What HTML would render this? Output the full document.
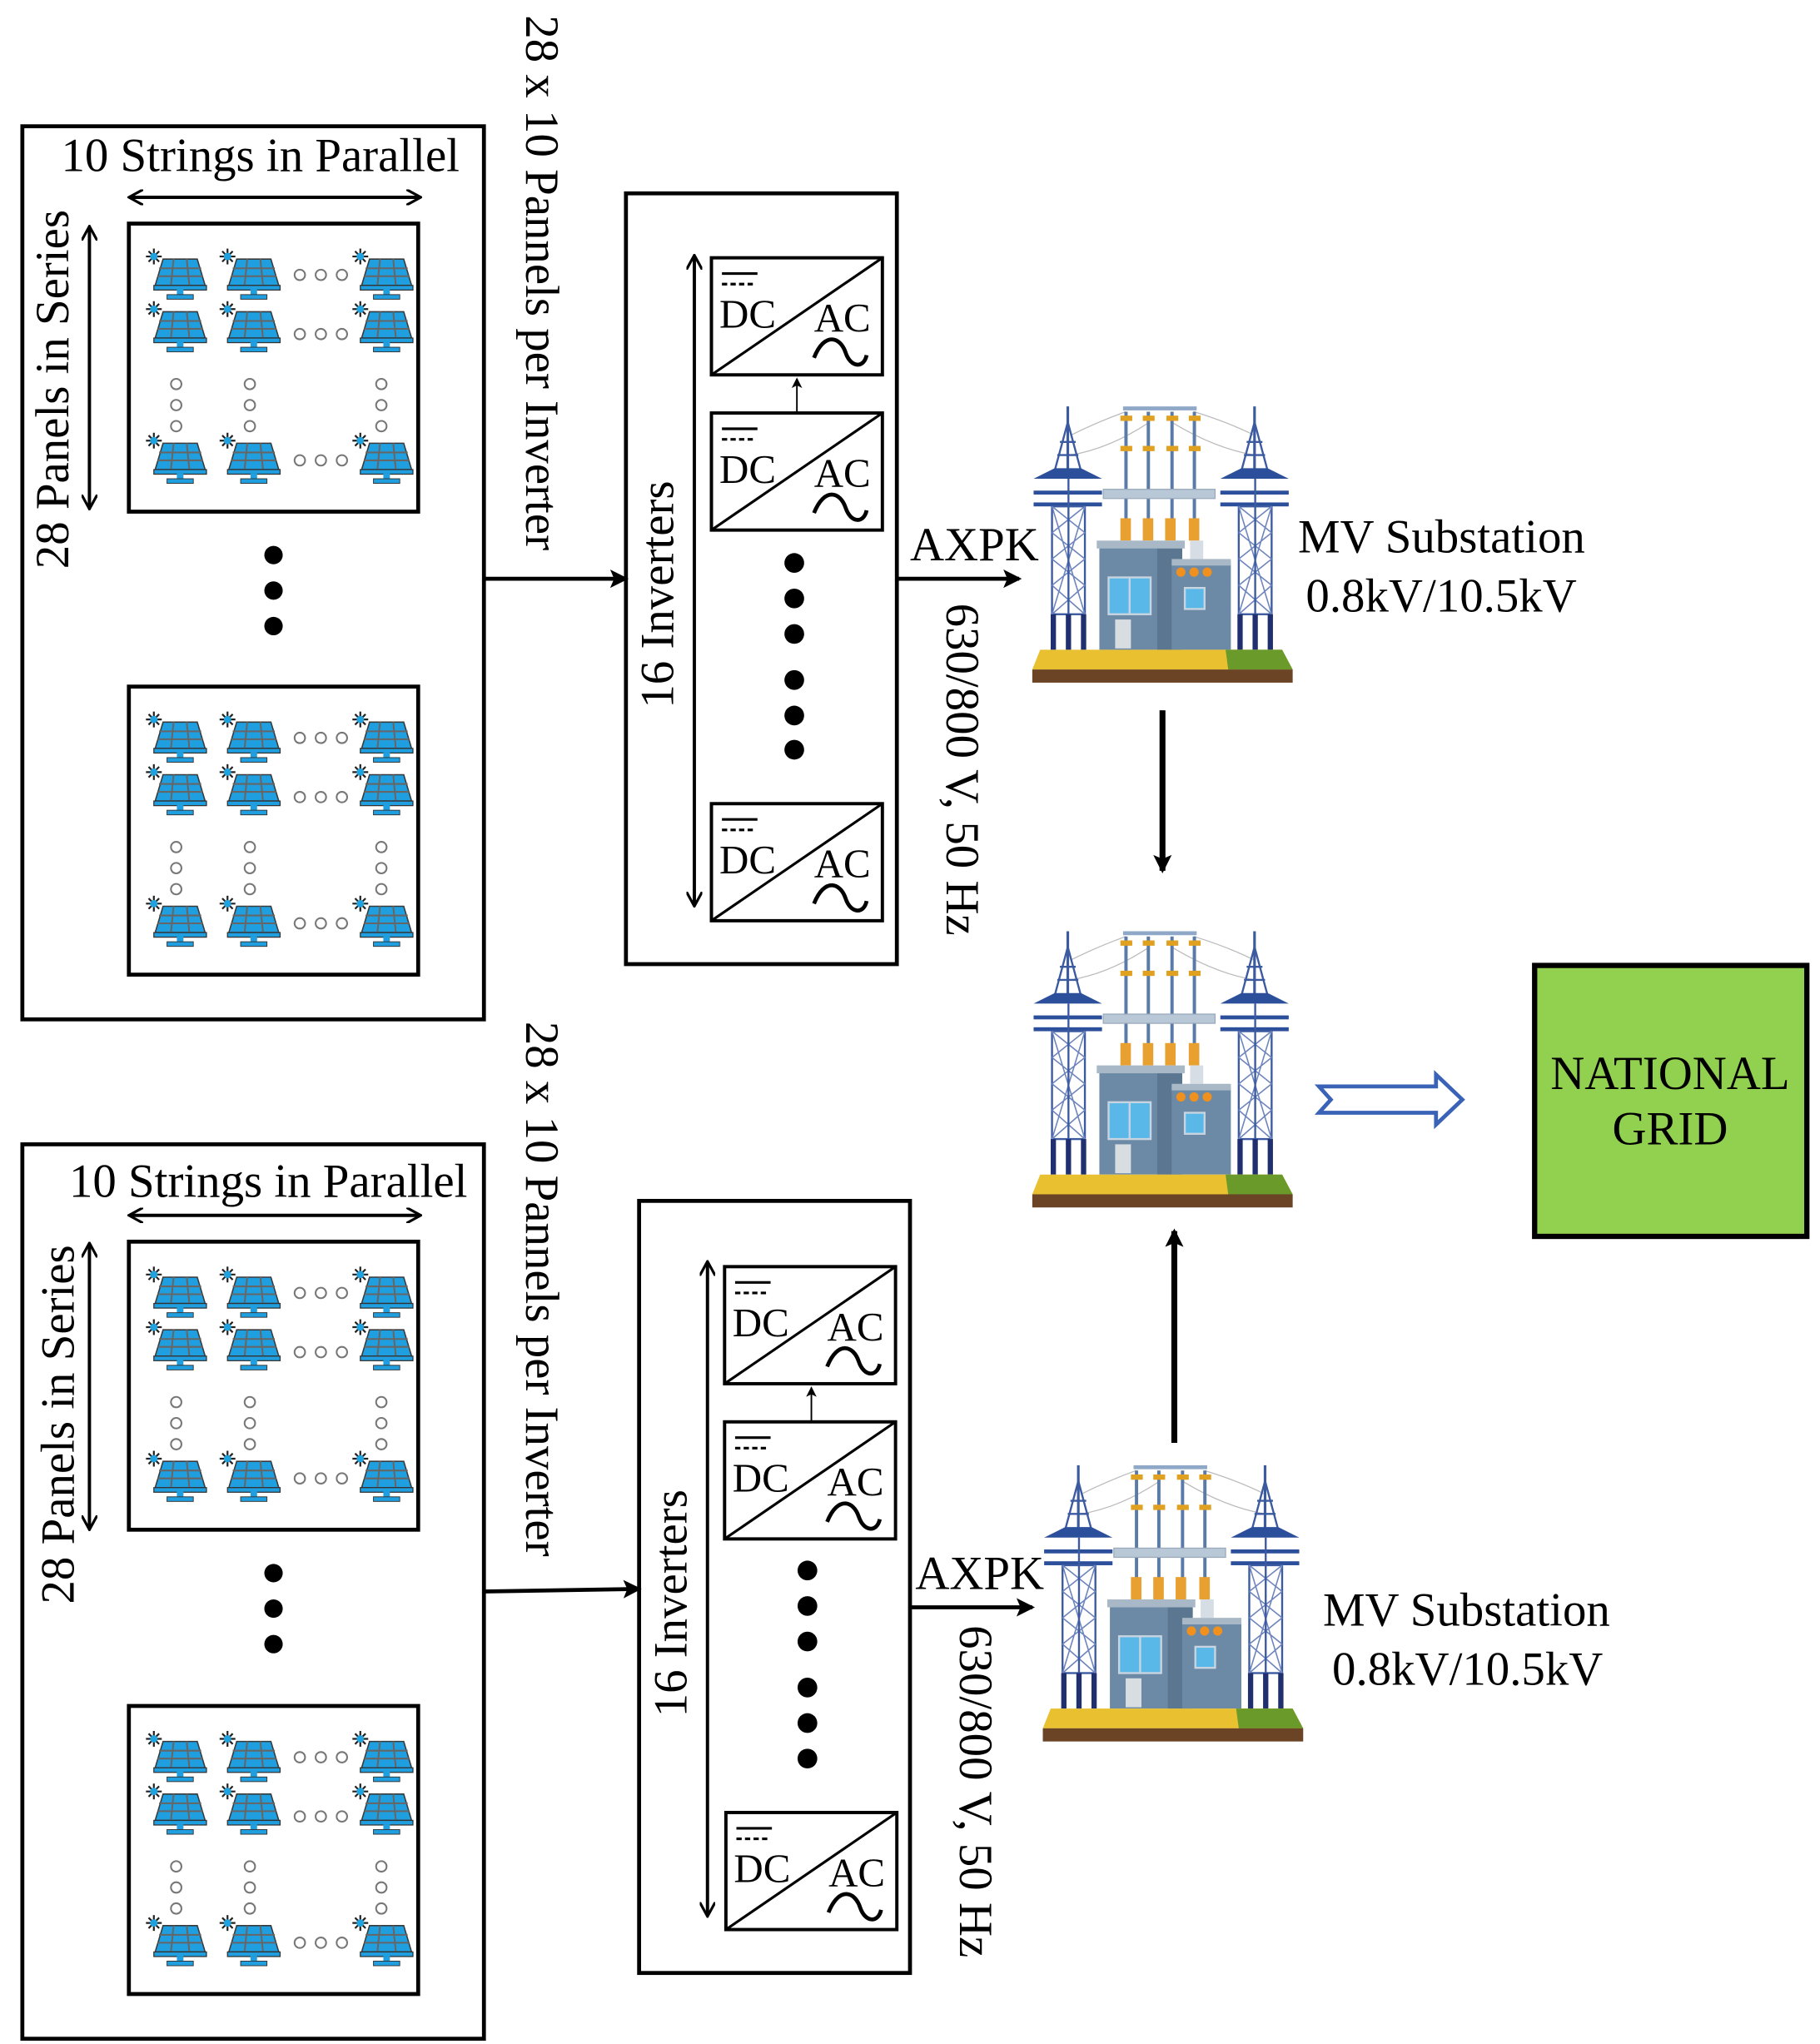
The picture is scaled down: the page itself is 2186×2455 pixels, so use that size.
<!DOCTYPE html>
<html><head><meta charset="utf-8"><style>
html,body{margin:0;padding:0;background:#fff;}
svg{display:block;}
svg text{font-family:"Liberation Serif","DejaVu Serif",serif;fill:#000;}
</style></head><body>
<svg width="2186" height="2455" viewBox="0 0 1384 1554" preserveAspectRatio="none" xmlns="http://www.w3.org/2000/svg" font-family="Liberation Serif, DejaVu Serif, serif">
<defs>
<marker id="ah" markerWidth="8" markerHeight="8" refX="7" refY="4" orient="auto" markerUnits="userSpaceOnUse"><path d="M0,0 L8,4 L0,8 L2,4 Z" fill="#000"/></marker>
<marker id="ahb" markerWidth="14" markerHeight="14" refX="12" refY="7" orient="auto" markerUnits="userSpaceOnUse"><path d="M0,0 L14,7 L0,14 L3,7 Z" fill="#000"/></marker>
<marker id="ahs" markerWidth="12" markerHeight="12" refX="10" refY="6" orient="auto-start-reverse" markerUnits="userSpaceOnUse"><path d="M0,0 L11,6 L0,12" fill="none" stroke="#000" stroke-width="2"/></marker>
<symbol id="pv" viewBox="0 0 44 42" overflow="visible">
 <g stroke="#222" stroke-width="1.4"><line x1="5" y1="1" x2="5" y2="13"/><line x1="-1" y1="7" x2="11" y2="7"/><line x1="1" y1="3" x2="9" y2="11"/><line x1="9" y1="3" x2="1" y2="11"/></g>
 <circle cx="5" cy="7" r="2.8" fill="#1fa3e0"/>
 <path d="M12,9 L38,9 L44,29 L6,29 Z" fill="#1f9fe0" stroke="#3a3a3a" stroke-width="1"/>
 <g stroke="#666" stroke-width="1.3"><line x1="9" y1="16" x2="41" y2="16"/><line x1="8" y1="22" x2="42" y2="22"/><line x1="20" y1="9" x2="18" y2="29"/><line x1="30" y1="9" x2="32" y2="29"/></g>
 <rect x="5" y="29" width="40" height="3.5" fill="#1f9fe0" stroke="#333" stroke-width="0.8"/>
 <rect x="22.5" y="32" width="5" height="6" fill="#1f9fe0"/>
 <rect x="15" y="36" width="20" height="3.5" fill="#1f9fe0" stroke="#333" stroke-width="0.6"/>
</symbol>
<symbol id="arr" viewBox="0 0 220 220" overflow="visible">
 <rect x="0" y="0" width="220" height="219" fill="#fff" stroke="#000" stroke-width="3"/>
 <use href="#pv" x="14" y="18" width="44" height="42"/><use href="#pv" x="70" y="18" width="44" height="42"/><use href="#pv" x="171" y="18" width="44" height="42"/>
 <use href="#pv" x="14" y="58" width="44" height="42"/><use href="#pv" x="70" y="58" width="44" height="42"/><use href="#pv" x="171" y="58" width="44" height="42"/>
 <use href="#pv" x="14" y="158" width="44" height="42"/><use href="#pv" x="70" y="158" width="44" height="42"/><use href="#pv" x="171" y="158" width="44" height="42"/>
 <g fill="none" stroke="#777" stroke-width="1.3">
  <circle cx="130" cy="39" r="4"/><circle cx="146" cy="39" r="4"/><circle cx="162" cy="39" r="4"/>
  <circle cx="130" cy="84" r="4"/><circle cx="146" cy="84" r="4"/><circle cx="162" cy="84" r="4"/>
  <circle cx="130" cy="180" r="4"/><circle cx="146" cy="180" r="4"/><circle cx="162" cy="180" r="4"/>
  <circle cx="36" cy="122" r="4"/><circle cx="36" cy="138" r="4"/><circle cx="36" cy="154" r="4"/>
  <circle cx="92" cy="122" r="4"/><circle cx="92" cy="138" r="4"/><circle cx="92" cy="154" r="4"/>
  <circle cx="192" cy="122" r="4"/><circle cx="192" cy="138" r="4"/><circle cx="192" cy="154" r="4"/>
 </g>
</symbol>
<symbol id="inv" viewBox="0 0 130 90" overflow="visible">
 <rect x="0" y="0" width="130" height="89" fill="#fff" stroke="#000" stroke-width="2.5"/>
 <line x1="0" y1="89" x2="130" y2="0" stroke="#000" stroke-width="2"/>
 <line x1="8" y1="12" x2="35" y2="12" stroke="#000" stroke-width="2"/>
 <line x1="8" y1="20" x2="33" y2="20" stroke="#000" stroke-width="2" stroke-dasharray="4,2.5"/>
 <text x="6" y="53" font-size="31">DC</text>
 <text x="78" y="56" font-size="31">AC</text>
 <path d="M78,76 C86,56 98,60 102,72 C106,84 116,84 118,74" fill="none" stroke="#000" stroke-width="3"/>
</symbol>
<symbol id="tower" viewBox="0 0 60 200" overflow="visible">
 <line x1="28" y1="8" x2="28" y2="57" stroke="#3b5aa0" stroke-width="2"/>
 <path d="M28,20 L18,57 M28,20 L38,57 M20,45 L36,45 M22,35 L34,35" stroke="#3b5aa0" stroke-width="1.5" fill="none"/>
 <path d="M2,63 L18,55 L38,55 L54,63 Z" fill="#2b4f9a"/>
 <rect x="2" y="72" width="52" height="3" fill="#2b4f9a"/>
 <rect x="2" y="81" width="52" height="3" fill="#2b4f9a"/>
 <rect x="16" y="84" width="25" height="82" fill="none" stroke="#3b5aa0" stroke-width="1.5"/>
 <path d="M16,84 L41,166 M41,84 L16,166 M16,104 L41,124 M41,104 L16,124 M16,124 L41,144 M41,124 L16,144 M16,144 L41,166 M41,144 L16,166 M16,84 L41,104 M41,84 L16,104" stroke="#6d84bd" stroke-width="1" fill="none"/>
 <line x1="28.5" y1="63" x2="28.5" y2="166" stroke="#3b5aa0" stroke-width="1.5"/>
 <rect x="15" y="166" width="4" height="27" fill="#1f2f70"/><rect x="26.5" y="166" width="4" height="27" fill="#1f2f70"/><rect x="38" y="166" width="4" height="27" fill="#1f2f70"/>
</symbol>
<symbol id="sub" viewBox="0 0 215 228" overflow="visible">
 <g stroke="#bbb" stroke-width="0.8" fill="none"><path d="M30,30 Q50,20 72,12"/><path d="M30,45 Q60,40 90,20"/><path d="M170,30 Q150,20 124,12"/><path d="M170,45 Q140,40 107,20"/></g>
 <use href="#tower" x="0" y="0" width="60" height="200"/>
 <use href="#tower" x="142" y="0" width="60" height="200"/>
 <rect x="70" y="8" width="56" height="3" fill="#8fa8c8"/>
 <g fill="#5a7aa8"><rect x="71" y="12" width="2.5" height="82"/><rect x="88" y="12" width="2.5" height="82"/><rect x="106" y="12" width="2.5" height="82"/><rect x="123" y="12" width="2.5" height="82"/></g>
 <g fill="#e0a020"><rect x="68" y="15" width="9" height="4"/><rect x="85" y="15" width="9" height="4"/><rect x="103" y="15" width="9" height="4"/><rect x="120" y="15" width="9" height="4"/>
 <rect x="68" y="38" width="9" height="4"/><rect x="85" y="38" width="9" height="4"/><rect x="103" y="38" width="9" height="4"/><rect x="120" y="38" width="9" height="4"/></g>
 <rect x="55" y="71" width="85" height="7" fill="#b9c8d6" stroke="#9aaabb" stroke-width="0.8"/>
 <g fill="#e8a030"><rect x="68" y="93" width="8" height="17"/><rect x="85" y="93" width="8" height="17"/><rect x="102" y="93" width="8" height="17"/><rect x="120" y="93" width="8" height="17"/></g>
 <rect x="52" y="113" width="63" height="80" fill="#6c8aa6"/>
 <rect x="96" y="113" width="19" height="80" fill="#5a7690"/>
 <rect x="50" y="110" width="67" height="6" fill="#a8b8c6"/>
 <rect x="121" y="110" width="10" height="14" fill="#d6dde4"/>
 <rect x="107" y="126" width="45" height="67" fill="#6c8aa6"/>
 <rect x="107" y="124" width="45" height="5" fill="#a8b8c6"/>
 <g fill="#f0901e"><circle cx="114" cy="134" r="3.5"/><circle cx="124" cy="134" r="3.5"/><circle cx="134" cy="134" r="3.5"/></g>
 <rect x="59" y="138" width="32" height="28" fill="#5ab8e8" stroke="#c8d4e0" stroke-width="1.5"/>
 <line x1="75" y1="138" x2="75" y2="166" stroke="#c8d4e0" stroke-width="1.5"/>
 <rect x="117" y="146" width="15" height="16" fill="#5ab8e8" stroke="#c8d4e0" stroke-width="1.5"/>
 <rect x="64" y="170" width="12" height="22" fill="#d8dde2"/>
 <path d="M7,193 L191,193 L199,208 L1,208 Z" fill="#e8c030"/>
 <path d="M148,193 L191,193 L199,208 L150,208 Z" fill="#6a9a2a"/>
 <rect x="1" y="208" width="198" height="10" fill="#6b4426"/>
</symbol>
</defs>

<!-- TOP PV BLOCK -->
<rect x="17" y="96" width="351" height="679" fill="none" stroke="#000" stroke-width="3"/>
<text x="198" y="130" font-size="36" text-anchor="middle">10 Strings in Parallel</text>
<line x1="99" y1="150" x2="319" y2="150" stroke="#000" stroke-width="2.5" marker-start="url(#ahs)" marker-end="url(#ahs)"/>
<line x1="68" y1="173" x2="68" y2="386" stroke="#000" stroke-width="2.5" marker-start="url(#ahs)" marker-end="url(#ahs)"/>
<text transform="translate(52,296) rotate(-90)" font-size="36" text-anchor="middle">28 Panels in Series</text>
<use href="#arr" x="98" y="170" width="220" height="220"/>
<use href="#arr" x="98" y="522" width="220" height="220"/>
<circle cx="208" cy="422" r="7"/><circle cx="208" cy="449" r="7"/><circle cx="208" cy="476" r="7"/>
<text transform="translate(400,215) rotate(90)" font-size="36" text-anchor="middle">28 x 10 Pannels per Inverter</text>
<line x1="368" y1="440" x2="476" y2="440" stroke="#000" stroke-width="3" marker-end="url(#ahb)"/>

<rect x="476" y="147" width="206" height="586" fill="none" stroke="#000" stroke-width="3"/>
<line x1="528" y1="195" x2="528" y2="688" stroke="#000" stroke-width="2.5" marker-start="url(#ahs)" marker-end="url(#ahs)"/>
<text transform="translate(512,452) rotate(-90)" font-size="36" text-anchor="middle">16 Inverters</text>
<use href="#inv" x="541" y="196" width="130" height="90"/>
<use href="#inv" x="541" y="314" width="130" height="90"/>
<use href="#inv" x="541" y="611" width="130" height="90"/>
<line x1="606" y1="313" x2="606" y2="288" stroke="#000" stroke-width="1.2" marker-end="url(#ah)"/>
<circle cx="604" cy="428" r="7.5"/><circle cx="604" cy="455" r="7.5"/><circle cx="604" cy="482" r="7.5"/><circle cx="604" cy="517" r="7.5"/><circle cx="604" cy="544" r="7.5"/><circle cx="604" cy="570" r="7.5"/>
<line x1="682" y1="440" x2="775" y2="440" stroke="#000" stroke-width="3" marker-end="url(#ahb)"/>
<text x="692" y="426" font-size="36">AXPK</text>
<text transform="translate(720,585) rotate(90)" font-size="36" text-anchor="middle">630/800 V, 50 Hz</text>

<use href="#sub" x="784" y="301" width="215" height="228"/>
<text x="987" y="420" font-size="36">MV Substation</text>
<text x="993" y="465" font-size="36">0.8kV/10.5kV</text>
<line x1="884" y1="540" x2="884" y2="662" stroke="#000" stroke-width="4.5" marker-end="url(#ahb)"/>

<use href="#sub" x="784" y="700" width="215" height="228"/>
<path d="M1003,826 L1092,826 L1092,817 L1112,836 L1092,855 L1092,846 L1003,846 L1012,836 Z" fill="none" stroke="#3a63b8" stroke-width="3"/>
<rect x="1167" y="734" width="207" height="206" fill="#92d050" stroke="#000" stroke-width="4"/>
<text x="1270" y="828" font-size="36" text-anchor="middle">NATIONAL</text>
<text x="1270" y="870" font-size="36" text-anchor="middle">GRID</text>

<line x1="893" y1="1097" x2="893" y2="936" stroke="#000" stroke-width="4.5" marker-end="url(#ahb)"/>
<use href="#sub" x="792" y="1106" width="215" height="228"/>
<text x="1006" y="1236" font-size="36">MV Substation</text>
<text x="1013" y="1281" font-size="36">0.8kV/10.5kV</text>

<!-- BOTTOM PV BLOCK -->
<rect x="17" y="870" width="351" height="680" fill="none" stroke="#000" stroke-width="3"/>
<text x="204" y="910" font-size="36" text-anchor="middle">10 Strings in Parallel</text>
<line x1="99" y1="924" x2="319" y2="924" stroke="#000" stroke-width="2.5" marker-start="url(#ahs)" marker-end="url(#ahs)"/>
<line x1="68" y1="946" x2="68" y2="1162" stroke="#000" stroke-width="2.5" marker-start="url(#ahs)" marker-end="url(#ahs)"/>
<text transform="translate(56,1083) rotate(-90)" font-size="36" text-anchor="middle">28 Panels in Series</text>
<use href="#arr" x="98" y="944" width="220" height="220"/>
<use href="#arr" x="98" y="1297" width="220" height="220"/>
<circle cx="208" cy="1196" r="7"/><circle cx="208" cy="1223" r="7"/><circle cx="208" cy="1250" r="7"/>
<text transform="translate(400,980) rotate(90)" font-size="36" text-anchor="middle">28 x 10 Pannels per Inverter</text>
<line x1="368" y1="1210" x2="486" y2="1208" stroke="#000" stroke-width="3" marker-end="url(#ahb)"/>

<rect x="486" y="913" width="206" height="587" fill="none" stroke="#000" stroke-width="3"/>
<line x1="538" y1="960" x2="538" y2="1456" stroke="#000" stroke-width="2.5" marker-start="url(#ahs)" marker-end="url(#ahs)"/>
<text transform="translate(522,1219) rotate(-90)" font-size="36" text-anchor="middle">16 Inverters</text>
<use href="#inv" x="551" y="963" width="130" height="90"/>
<use href="#inv" x="551" y="1081" width="130" height="90"/>
<use href="#inv" x="552" y="1378" width="130" height="90"/>
<line x1="617" y1="1081" x2="617" y2="1055" stroke="#000" stroke-width="1.2" marker-end="url(#ah)"/>
<circle cx="614" cy="1194" r="7.5"/><circle cx="614" cy="1221" r="7.5"/><circle cx="614" cy="1248" r="7.5"/><circle cx="614" cy="1283" r="7.5"/><circle cx="614" cy="1310" r="7.5"/><circle cx="614" cy="1337" r="7.5"/>
<line x1="692" y1="1222" x2="785" y2="1222" stroke="#000" stroke-width="3" marker-end="url(#ahb)"/>
<text x="696" y="1208" font-size="36">AXPK</text>
<text transform="translate(730,1362) rotate(90)" font-size="36" text-anchor="middle">630/800 V, 50 Hz</text>
</svg>
</body></html>
